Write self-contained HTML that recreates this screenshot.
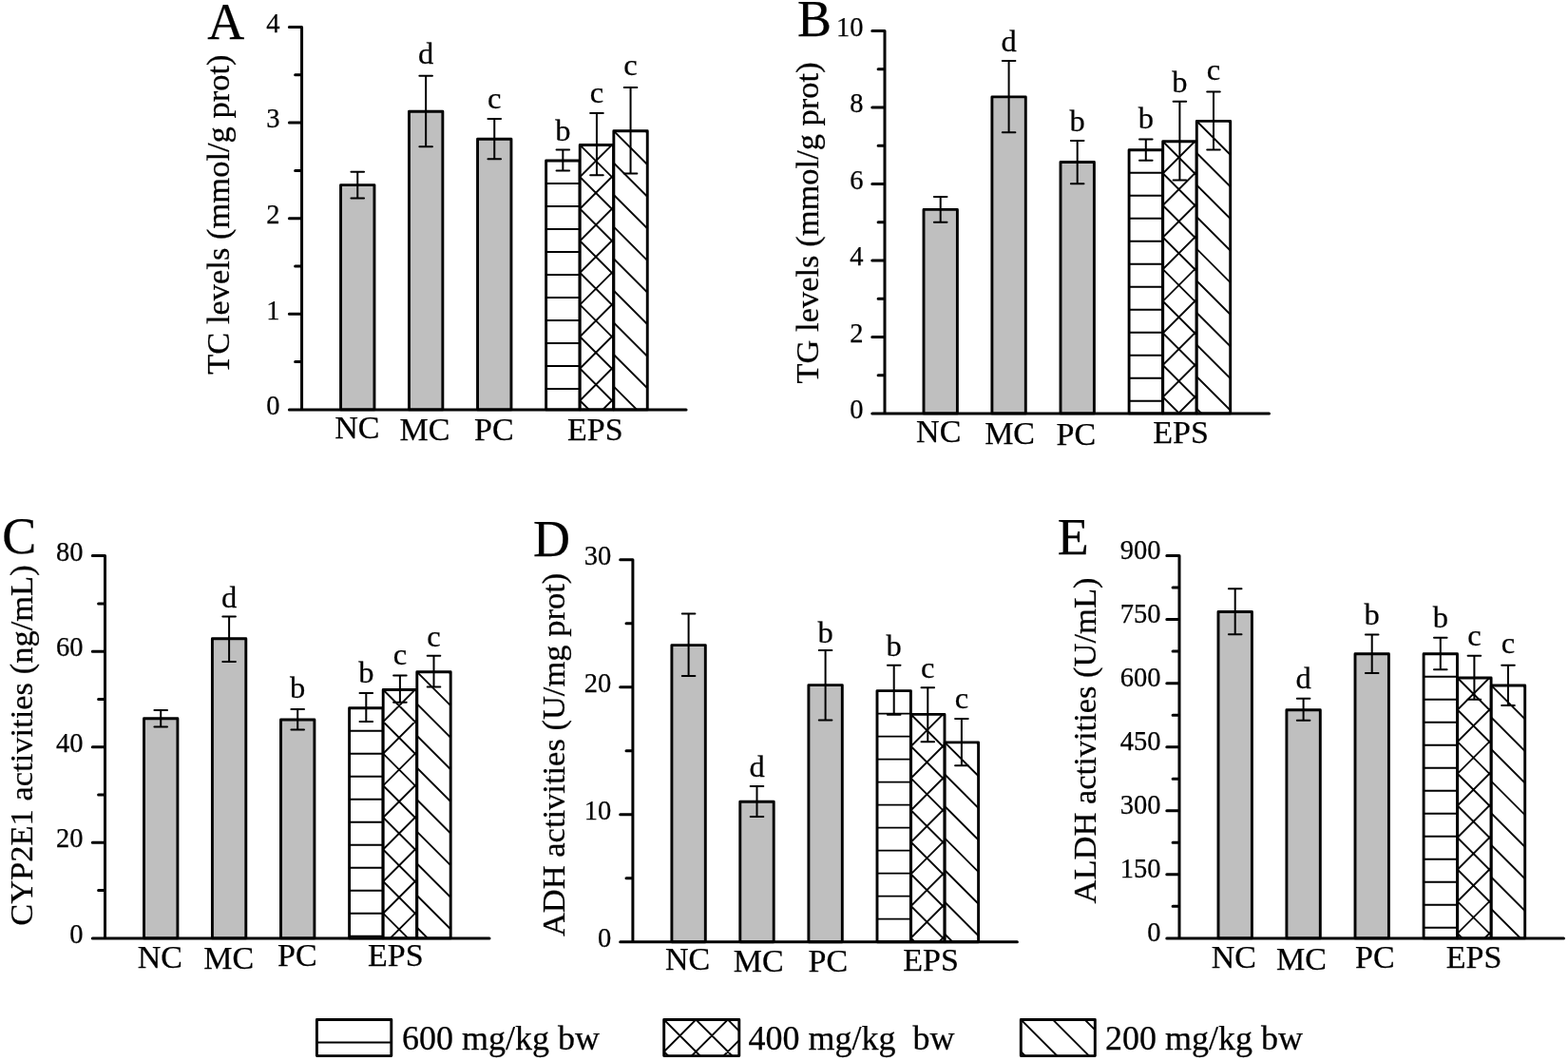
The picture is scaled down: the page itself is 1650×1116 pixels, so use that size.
<!DOCTYPE html>
<html><head><meta charset="utf-8"><title>Figure</title>
<style>html,body{margin:0;padding:0;background:#fff;width:1650px;height:1116px;overflow:hidden}svg{display:block}text{stroke:#000;stroke-width:0.25px}</style>
</head><body>
<svg width="1650" height="1116" viewBox="0 0 1650 1116" font-family="'Liberation Serif','Times New Roman',serif" fill="#000">
<defs><clipPath id="c1"><rect x="574.65" y="169.00" width="35.40" height="261.90"/></clipPath><clipPath id="c2"><rect x="610.25" y="152.50" width="35.40" height="278.40"/></clipPath><clipPath id="c3"><rect x="645.85" y="137.80" width="35.40" height="293.10"/></clipPath><clipPath id="c4"><rect x="1188.10" y="157.80" width="35.40" height="277.10"/></clipPath><clipPath id="c5"><rect x="1223.70" y="148.80" width="35.40" height="286.10"/></clipPath><clipPath id="c6"><rect x="1259.30" y="127.40" width="35.40" height="307.50"/></clipPath><clipPath id="c7"><rect x="367.60" y="744.70" width="35.40" height="242.20"/></clipPath><clipPath id="c8"><rect x="403.20" y="725.50" width="35.40" height="261.40"/></clipPath><clipPath id="c9"><rect x="438.80" y="706.80" width="35.40" height="280.10"/></clipPath><clipPath id="c10"><rect x="923.00" y="726.60" width="35.40" height="264.10"/></clipPath><clipPath id="c11"><rect x="958.60" y="751.40" width="35.40" height="239.30"/></clipPath><clipPath id="c12"><rect x="994.20" y="780.90" width="35.40" height="209.80"/></clipPath><clipPath id="c13"><rect x="1498.10" y="687.80" width="35.40" height="299.10"/></clipPath><clipPath id="c14"><rect x="1533.70" y="713.00" width="35.40" height="273.90"/></clipPath><clipPath id="c15"><rect x="1569.30" y="721.00" width="35.40" height="265.90"/></clipPath><clipPath id="c16"><rect x="333.40" y="1072.50" width="78.40" height="38.10"/></clipPath><clipPath id="c17"><rect x="698.70" y="1072.50" width="79.10" height="38.10"/></clipPath><clipPath id="c18"><rect x="1074.30" y="1072.50" width="78.00" height="38.10"/></clipPath></defs>
<rect width="1650" height="1116" fill="#fff"/>
<rect x="358.55" y="194.60" width="35.40" height="236.30" fill="#bfbfbf" stroke="#000" stroke-width="2.9" stroke-linejoin="round"/>
<rect x="430.45" y="117.30" width="35.40" height="313.60" fill="#bfbfbf" stroke="#000" stroke-width="2.9" stroke-linejoin="round"/>
<rect x="502.55" y="146.30" width="35.40" height="284.60" fill="#bfbfbf" stroke="#000" stroke-width="2.9" stroke-linejoin="round"/>
<rect x="574.65" y="169.00" width="35.40" height="261.90" fill="#fff"/>
<path d="M574.65 193.00L610.05 193.00M574.65 217.00L610.05 217.00M574.65 241.00L610.05 241.00M574.65 265.00L610.05 265.00M574.65 289.00L610.05 289.00M574.65 313.00L610.05 313.00M574.65 337.00L610.05 337.00M574.65 361.00L610.05 361.00M574.65 385.00L610.05 385.00M574.65 409.00L610.05 409.00" stroke="#000" stroke-width="1.9" fill="none" clip-path="url(#c1)"/>
<rect x="574.65" y="169.00" width="35.40" height="261.90" fill="none" stroke="#000" stroke-width="2.9" stroke-linejoin="round"/>
<rect x="610.25" y="152.50" width="35.40" height="278.40" fill="#fff"/>
<path d="M605.25 46.70L650.65 92.10M605.25 80.30L650.65 125.70M605.25 113.90L650.65 159.30M605.25 147.50L650.65 192.90M605.25 181.10L650.65 226.50M605.25 214.70L650.65 260.10M605.25 248.30L650.65 293.70M605.25 281.90L650.65 327.30M605.25 315.50L650.65 360.90M605.25 349.10L650.65 394.50M605.25 382.70L650.65 428.10M605.25 416.30L650.65 461.70M605.25 449.90L650.65 495.30M605.25 56.70L650.65 11.30M605.25 90.30L650.65 44.90M605.25 123.90L650.65 78.50M605.25 157.50L650.65 112.10M605.25 191.10L650.65 145.70M605.25 224.70L650.65 179.30M605.25 258.30L650.65 212.90M605.25 291.90L650.65 246.50M605.25 325.50L650.65 280.10M605.25 359.10L650.65 313.70M605.25 392.70L650.65 347.30M605.25 426.30L650.65 380.90M605.25 459.90L650.65 414.50" stroke="#000" stroke-width="1.9" fill="none" clip-path="url(#c2)"/>
<rect x="610.25" y="152.50" width="35.40" height="278.40" fill="none" stroke="#000" stroke-width="2.9" stroke-linejoin="round"/>
<rect x="645.85" y="137.80" width="35.40" height="293.10" fill="#fff"/>
<path d="M640.85 32.00L686.25 77.40M640.85 65.60L686.25 111.00M640.85 99.20L686.25 144.60M640.85 132.80L686.25 178.20M640.85 166.40L686.25 211.80M640.85 200.00L686.25 245.40M640.85 233.60L686.25 279.00M640.85 267.20L686.25 312.60M640.85 300.80L686.25 346.20M640.85 334.40L686.25 379.80M640.85 368.00L686.25 413.40M640.85 401.60L686.25 447.00M640.85 435.20L686.25 480.60" stroke="#000" stroke-width="1.9" fill="none" clip-path="url(#c3)"/>
<rect x="645.85" y="137.80" width="35.40" height="293.10" fill="none" stroke="#000" stroke-width="2.9" stroke-linejoin="round"/>
<path d="M376.25 180.70V208.50M369.45 180.70H383.05M369.45 208.50H383.05" stroke="#000" stroke-width="2.0" stroke-linecap="round" fill="none"/>
<path d="M448.15 79.80V154.20M441.35 79.80H454.95M441.35 154.20H454.95" stroke="#000" stroke-width="2.0" stroke-linecap="round" fill="none"/>
<text x="448.15" y="66.90" font-size="32.5" text-anchor="middle">d</text>
<path d="M520.25 125.10V167.20M513.45 125.10H527.05M513.45 167.20H527.05" stroke="#000" stroke-width="2.0" stroke-linecap="round" fill="none"/>
<text x="520.25" y="113.50" font-size="32.5" text-anchor="middle">c</text>
<path d="M592.35 157.40V179.40M585.55 157.40H599.15M585.55 179.40H599.15" stroke="#000" stroke-width="2.0" stroke-linecap="round" fill="none"/>
<text x="592.35" y="147.50" font-size="32.5" text-anchor="middle">b</text>
<path d="M627.95 118.90V184.30M621.15 118.90H634.75M621.15 184.30H634.75" stroke="#000" stroke-width="2.0" stroke-linecap="round" fill="none"/>
<text x="627.95" y="108.10" font-size="32.5" text-anchor="middle">c</text>
<path d="M663.55 92.00V182.50M656.75 92.00H670.35M656.75 182.50H670.35" stroke="#000" stroke-width="2.0" stroke-linecap="round" fill="none"/>
<text x="663.55" y="78.50" font-size="32.5" text-anchor="middle">c</text>
<text x="294.45" y="436.10" font-size="28.5" text-anchor="end">0</text>
<text x="294.45" y="335.50" font-size="28.5" text-anchor="end">1</text>
<text x="294.45" y="234.90" font-size="28.5" text-anchor="end">2</text>
<text x="294.45" y="134.30" font-size="28.5" text-anchor="end">3</text>
<text x="294.45" y="33.70" font-size="28.5" text-anchor="end">4</text>
<path d="M304.35 28.50H317.55V430.90H722.05M304.35 430.90H317.55M310.65 380.60H317.55M304.35 330.30H317.55M310.65 280.00H317.55M304.35 229.70H317.55M310.65 179.40H317.55M304.35 129.10H317.55M310.65 78.80H317.55" stroke="#000" stroke-width="3.0" fill="none" stroke-linejoin="round" stroke-linecap="round"/>
<text x="375.90" y="460.80" font-size="34" text-anchor="middle">NC</text>
<text x="447.00" y="462.80" font-size="34" text-anchor="middle">MC</text>
<text x="519.90" y="462.80" font-size="34" text-anchor="middle">PC</text>
<text x="626.40" y="462.80" font-size="34" text-anchor="middle">EPS</text>
<text transform="translate(241.20 225.65) rotate(-90)" x="0" y="0" font-size="34.5" text-anchor="middle">TC levels (mmol/g prot)</text>
<text x="218.30" y="41.00" font-size="54">A</text>
<rect x="972.00" y="220.40" width="35.40" height="214.50" fill="#bfbfbf" stroke="#000" stroke-width="2.9" stroke-linejoin="round"/>
<rect x="1043.90" y="101.90" width="35.40" height="333.00" fill="#bfbfbf" stroke="#000" stroke-width="2.9" stroke-linejoin="round"/>
<rect x="1116.00" y="170.50" width="35.40" height="264.40" fill="#bfbfbf" stroke="#000" stroke-width="2.9" stroke-linejoin="round"/>
<rect x="1188.10" y="157.80" width="35.40" height="277.10" fill="#fff"/>
<path d="M1188.10 181.80L1223.50 181.80M1188.10 205.80L1223.50 205.80M1188.10 229.80L1223.50 229.80M1188.10 253.80L1223.50 253.80M1188.10 277.80L1223.50 277.80M1188.10 301.80L1223.50 301.80M1188.10 325.80L1223.50 325.80M1188.10 349.80L1223.50 349.80M1188.10 373.80L1223.50 373.80M1188.10 397.80L1223.50 397.80M1188.10 421.80L1223.50 421.80" stroke="#000" stroke-width="1.9" fill="none" clip-path="url(#c4)"/>
<rect x="1188.10" y="157.80" width="35.40" height="277.10" fill="none" stroke="#000" stroke-width="2.9" stroke-linejoin="round"/>
<rect x="1223.70" y="148.80" width="35.40" height="286.10" fill="#fff"/>
<path d="M1218.70 43.00L1264.10 88.40M1218.70 76.60L1264.10 122.00M1218.70 110.20L1264.10 155.60M1218.70 143.80L1264.10 189.20M1218.70 177.40L1264.10 222.80M1218.70 211.00L1264.10 256.40M1218.70 244.60L1264.10 290.00M1218.70 278.20L1264.10 323.60M1218.70 311.80L1264.10 357.20M1218.70 345.40L1264.10 390.80M1218.70 379.00L1264.10 424.40M1218.70 412.60L1264.10 458.00M1218.70 446.20L1264.10 491.60M1218.70 53.00L1264.10 7.60M1218.70 86.60L1264.10 41.20M1218.70 120.20L1264.10 74.80M1218.70 153.80L1264.10 108.40M1218.70 187.40L1264.10 142.00M1218.70 221.00L1264.10 175.60M1218.70 254.60L1264.10 209.20M1218.70 288.20L1264.10 242.80M1218.70 321.80L1264.10 276.40M1218.70 355.40L1264.10 310.00M1218.70 389.00L1264.10 343.60M1218.70 422.60L1264.10 377.20M1218.70 456.20L1264.10 410.80" stroke="#000" stroke-width="1.9" fill="none" clip-path="url(#c5)"/>
<rect x="1223.70" y="148.80" width="35.40" height="286.10" fill="none" stroke="#000" stroke-width="2.9" stroke-linejoin="round"/>
<rect x="1259.30" y="127.40" width="35.40" height="307.50" fill="#fff"/>
<path d="M1254.30 21.60L1299.70 67.00M1254.30 55.20L1299.70 100.60M1254.30 88.80L1299.70 134.20M1254.30 122.40L1299.70 167.80M1254.30 156.00L1299.70 201.40M1254.30 189.60L1299.70 235.00M1254.30 223.20L1299.70 268.60M1254.30 256.80L1299.70 302.20M1254.30 290.40L1299.70 335.80M1254.30 324.00L1299.70 369.40M1254.30 357.60L1299.70 403.00M1254.30 391.20L1299.70 436.60M1254.30 424.80L1299.70 470.20M1254.30 458.40L1299.70 503.80" stroke="#000" stroke-width="1.9" fill="none" clip-path="url(#c6)"/>
<rect x="1259.30" y="127.40" width="35.40" height="307.50" fill="none" stroke="#000" stroke-width="2.9" stroke-linejoin="round"/>
<path d="M989.70 207.10V233.80M982.90 207.10H996.50M982.90 233.80H996.50" stroke="#000" stroke-width="2.0" stroke-linecap="round" fill="none"/>
<path d="M1061.60 63.90V139.20M1054.80 63.90H1068.40M1054.80 139.20H1068.40" stroke="#000" stroke-width="2.0" stroke-linecap="round" fill="none"/>
<text x="1061.60" y="54.40" font-size="32.5" text-anchor="middle">d</text>
<path d="M1133.70 148.10V193.30M1126.90 148.10H1140.50M1126.90 193.30H1140.50" stroke="#000" stroke-width="2.0" stroke-linecap="round" fill="none"/>
<text x="1133.70" y="138.30" font-size="32.5" text-anchor="middle">b</text>
<path d="M1205.80 146.60V168.70M1199.00 146.60H1212.60M1199.00 168.70H1212.60" stroke="#000" stroke-width="2.0" stroke-linecap="round" fill="none"/>
<text x="1205.80" y="135.00" font-size="32.5" text-anchor="middle">b</text>
<path d="M1241.40 106.70V189.60M1234.60 106.70H1248.20M1234.60 189.60H1248.20" stroke="#000" stroke-width="2.0" stroke-linecap="round" fill="none"/>
<text x="1241.40" y="97.30" font-size="32.5" text-anchor="middle">b</text>
<path d="M1277.00 96.60V157.40M1270.20 96.60H1283.80M1270.20 157.40H1283.80" stroke="#000" stroke-width="2.0" stroke-linecap="round" fill="none"/>
<text x="1277.00" y="83.90" font-size="32.5" text-anchor="middle">c</text>
<text x="908.50" y="440.40" font-size="28.5" text-anchor="end">0</text>
<text x="908.50" y="359.92" font-size="28.5" text-anchor="end">2</text>
<text x="908.50" y="279.44" font-size="28.5" text-anchor="end">4</text>
<text x="908.50" y="198.96" font-size="28.5" text-anchor="end">6</text>
<text x="908.50" y="118.48" font-size="28.5" text-anchor="end">8</text>
<text x="908.50" y="38.00" font-size="28.5" text-anchor="end">10</text>
<path d="M917.80 32.50H931.00V434.90H1335.50M917.80 434.90H931.00M924.10 394.66H931.00M917.80 354.42H931.00M924.10 314.18H931.00M917.80 273.94H931.00M924.10 233.70H931.00M917.80 193.46H931.00M924.10 153.22H931.00M917.80 112.98H931.00M924.10 72.74H931.00" stroke="#000" stroke-width="3.0" fill="none" stroke-linejoin="round" stroke-linecap="round"/>
<text x="987.70" y="465.40" font-size="34" text-anchor="middle">NC</text>
<text x="1062.60" y="466.90" font-size="34" text-anchor="middle">MC</text>
<text x="1132.40" y="467.50" font-size="34" text-anchor="middle">PC</text>
<text x="1242.60" y="466.30" font-size="34" text-anchor="middle">EPS</text>
<text transform="translate(860.80 234.45) rotate(-90)" x="0" y="0" font-size="34.5" text-anchor="middle">TG levels (mmol/g prot)</text>
<text x="839.00" y="37.80" font-size="54">B</text>
<rect x="151.50" y="755.80" width="35.40" height="231.10" fill="#bfbfbf" stroke="#000" stroke-width="2.9" stroke-linejoin="round"/>
<rect x="223.40" y="671.70" width="35.40" height="315.20" fill="#bfbfbf" stroke="#000" stroke-width="2.9" stroke-linejoin="round"/>
<rect x="295.50" y="757.00" width="35.40" height="229.90" fill="#bfbfbf" stroke="#000" stroke-width="2.9" stroke-linejoin="round"/>
<rect x="367.60" y="744.70" width="35.40" height="242.20" fill="#fff"/>
<path d="M367.60 768.70L403.00 768.70M367.60 792.70L403.00 792.70M367.60 816.70L403.00 816.70M367.60 840.70L403.00 840.70M367.60 864.70L403.00 864.70M367.60 888.70L403.00 888.70M367.60 912.70L403.00 912.70M367.60 936.70L403.00 936.70M367.60 960.70L403.00 960.70M367.60 984.70L403.00 984.70" stroke="#000" stroke-width="1.9" fill="none" clip-path="url(#c7)"/>
<rect x="367.60" y="744.70" width="35.40" height="242.20" fill="none" stroke="#000" stroke-width="2.9" stroke-linejoin="round"/>
<rect x="403.20" y="725.50" width="35.40" height="261.40" fill="#fff"/>
<path d="M398.20 619.70L443.60 665.10M398.20 653.30L443.60 698.70M398.20 686.90L443.60 732.30M398.20 720.50L443.60 765.90M398.20 754.10L443.60 799.50M398.20 787.70L443.60 833.10M398.20 821.30L443.60 866.70M398.20 854.90L443.60 900.30M398.20 888.50L443.60 933.90M398.20 922.10L443.60 967.50M398.20 955.70L443.60 1001.10M398.20 989.30L443.60 1034.70M398.20 629.70L443.60 584.30M398.20 663.30L443.60 617.90M398.20 696.90L443.60 651.50M398.20 730.50L443.60 685.10M398.20 764.10L443.60 718.70M398.20 797.70L443.60 752.30M398.20 831.30L443.60 785.90M398.20 864.90L443.60 819.50M398.20 898.50L443.60 853.10M398.20 932.10L443.60 886.70M398.20 965.70L443.60 920.30M398.20 999.30L443.60 953.90" stroke="#000" stroke-width="1.9" fill="none" clip-path="url(#c8)"/>
<rect x="403.20" y="725.50" width="35.40" height="261.40" fill="none" stroke="#000" stroke-width="2.9" stroke-linejoin="round"/>
<rect x="438.80" y="706.80" width="35.40" height="280.10" fill="#fff"/>
<path d="M433.80 601.00L479.20 646.40M433.80 634.60L479.20 680.00M433.80 668.20L479.20 713.60M433.80 701.80L479.20 747.20M433.80 735.40L479.20 780.80M433.80 769.00L479.20 814.40M433.80 802.60L479.20 848.00M433.80 836.20L479.20 881.60M433.80 869.80L479.20 915.20M433.80 903.40L479.20 948.80M433.80 937.00L479.20 982.40M433.80 970.60L479.20 1016.00M433.80 1004.20L479.20 1049.60" stroke="#000" stroke-width="1.9" fill="none" clip-path="url(#c9)"/>
<rect x="438.80" y="706.80" width="35.40" height="280.10" fill="none" stroke="#000" stroke-width="2.9" stroke-linejoin="round"/>
<path d="M169.20 747.00V764.50M162.40 747.00H176.00M162.40 764.50H176.00" stroke="#000" stroke-width="2.0" stroke-linecap="round" fill="none"/>
<path d="M241.10 648.40V695.90M234.30 648.40H247.90M234.30 695.90H247.90" stroke="#000" stroke-width="2.0" stroke-linecap="round" fill="none"/>
<text x="241.10" y="638.50" font-size="32.5" text-anchor="middle">d</text>
<path d="M313.20 746.00V767.60M306.40 746.00H320.00M306.40 767.60H320.00" stroke="#000" stroke-width="2.0" stroke-linecap="round" fill="none"/>
<text x="313.20" y="734.40" font-size="32.5" text-anchor="middle">b</text>
<path d="M385.30 729.00V759.00M378.50 729.00H392.10M378.50 759.00H392.10" stroke="#000" stroke-width="2.0" stroke-linecap="round" fill="none"/>
<text x="385.30" y="717.50" font-size="32.5" text-anchor="middle">b</text>
<path d="M420.90 710.60V738.70M414.10 710.60H427.70M414.10 738.70H427.70" stroke="#000" stroke-width="2.0" stroke-linecap="round" fill="none"/>
<text x="420.90" y="698.90" font-size="32.5" text-anchor="middle">c</text>
<path d="M456.50 689.80V722.50M449.70 689.80H463.30M449.70 722.50H463.30" stroke="#000" stroke-width="2.0" stroke-linecap="round" fill="none"/>
<text x="456.50" y="679.50" font-size="32.5" text-anchor="middle">c</text>
<text x="87.60" y="991.90" font-size="28.5" text-anchor="end">0</text>
<text x="87.60" y="891.32" font-size="28.5" text-anchor="end">20</text>
<text x="87.60" y="790.75" font-size="28.5" text-anchor="end">40</text>
<text x="87.60" y="690.17" font-size="28.5" text-anchor="end">60</text>
<text x="87.60" y="589.60" font-size="28.5" text-anchor="end">80</text>
<path d="M97.30 584.60H110.50V986.90H515.00M97.30 986.90H110.50M103.60 936.61H110.50M97.30 886.32H110.50M103.60 836.04H110.50M97.30 785.75H110.50M103.60 735.46H110.50M97.30 685.17H110.50M103.60 634.89H110.50" stroke="#000" stroke-width="3.0" fill="none" stroke-linejoin="round" stroke-linecap="round"/>
<text x="168.40" y="1018.10" font-size="34" text-anchor="middle">NC</text>
<text x="240.80" y="1018.50" font-size="34" text-anchor="middle">MC</text>
<text x="312.90" y="1016.00" font-size="34" text-anchor="middle">PC</text>
<text x="416.40" y="1015.90" font-size="34" text-anchor="middle">EPS</text>
<text transform="translate(34.30 784.10) rotate(-90)" x="0" y="0" font-size="34.5" text-anchor="middle">CYP2E1 activities (ng/mL)</text>
<text x="2.20" y="581.80" font-size="54">C</text>
<rect x="706.90" y="678.60" width="35.40" height="312.10" fill="#bfbfbf" stroke="#000" stroke-width="2.9" stroke-linejoin="round"/>
<rect x="778.80" y="843.30" width="35.40" height="147.40" fill="#bfbfbf" stroke="#000" stroke-width="2.9" stroke-linejoin="round"/>
<rect x="850.90" y="720.60" width="35.40" height="270.10" fill="#bfbfbf" stroke="#000" stroke-width="2.9" stroke-linejoin="round"/>
<rect x="923.00" y="726.60" width="35.40" height="264.10" fill="#fff"/>
<path d="M923.00 750.60L958.40 750.60M923.00 774.60L958.40 774.60M923.00 798.60L958.40 798.60M923.00 822.60L958.40 822.60M923.00 846.60L958.40 846.60M923.00 870.60L958.40 870.60M923.00 894.60L958.40 894.60M923.00 918.60L958.40 918.60M923.00 942.60L958.40 942.60M923.00 966.60L958.40 966.60M923.00 990.60L958.40 990.60" stroke="#000" stroke-width="1.9" fill="none" clip-path="url(#c10)"/>
<rect x="923.00" y="726.60" width="35.40" height="264.10" fill="none" stroke="#000" stroke-width="2.9" stroke-linejoin="round"/>
<rect x="958.60" y="751.40" width="35.40" height="239.30" fill="#fff"/>
<path d="M953.60 645.60L999.00 691.00M953.60 679.20L999.00 724.60M953.60 712.80L999.00 758.20M953.60 746.40L999.00 791.80M953.60 780.00L999.00 825.40M953.60 813.60L999.00 859.00M953.60 847.20L999.00 892.60M953.60 880.80L999.00 926.20M953.60 914.40L999.00 959.80M953.60 948.00L999.00 993.40M953.60 981.60L999.00 1027.00M953.60 1015.20L999.00 1060.60M953.60 655.60L999.00 610.20M953.60 689.20L999.00 643.80M953.60 722.80L999.00 677.40M953.60 756.40L999.00 711.00M953.60 790.00L999.00 744.60M953.60 823.60L999.00 778.20M953.60 857.20L999.00 811.80M953.60 890.80L999.00 845.40M953.60 924.40L999.00 879.00M953.60 958.00L999.00 912.60M953.60 991.60L999.00 946.20M953.60 1025.20L999.00 979.80" stroke="#000" stroke-width="1.9" fill="none" clip-path="url(#c11)"/>
<rect x="958.60" y="751.40" width="35.40" height="239.30" fill="none" stroke="#000" stroke-width="2.9" stroke-linejoin="round"/>
<rect x="994.20" y="780.90" width="35.40" height="209.80" fill="#fff"/>
<path d="M989.20 675.10L1034.60 720.50M989.20 708.70L1034.60 754.10M989.20 742.30L1034.60 787.70M989.20 775.90L1034.60 821.30M989.20 809.50L1034.60 854.90M989.20 843.10L1034.60 888.50M989.20 876.70L1034.60 922.10M989.20 910.30L1034.60 955.70M989.20 943.90L1034.60 989.30M989.20 977.50L1034.60 1022.90M989.20 1011.10L1034.60 1056.50" stroke="#000" stroke-width="1.9" fill="none" clip-path="url(#c12)"/>
<rect x="994.20" y="780.90" width="35.40" height="209.80" fill="none" stroke="#000" stroke-width="2.9" stroke-linejoin="round"/>
<path d="M724.60 645.60V710.90M717.80 645.60H731.40M717.80 710.90H731.40" stroke="#000" stroke-width="2.0" stroke-linecap="round" fill="none"/>
<path d="M796.50 827.00V858.90M789.70 827.00H803.30M789.70 858.90H803.30" stroke="#000" stroke-width="2.0" stroke-linecap="round" fill="none"/>
<text x="796.50" y="817.00" font-size="32.5" text-anchor="middle">d</text>
<path d="M868.60 684.10V757.50M861.80 684.10H875.40M861.80 757.50H875.40" stroke="#000" stroke-width="2.0" stroke-linecap="round" fill="none"/>
<text x="868.60" y="675.90" font-size="32.5" text-anchor="middle">b</text>
<path d="M940.70 699.80V751.80M933.90 699.80H947.50M933.90 751.80H947.50" stroke="#000" stroke-width="2.0" stroke-linecap="round" fill="none"/>
<text x="940.70" y="689.50" font-size="32.5" text-anchor="middle">b</text>
<path d="M976.30 723.20V780.20M969.50 723.20H983.10M969.50 780.20H983.10" stroke="#000" stroke-width="2.0" stroke-linecap="round" fill="none"/>
<text x="976.30" y="713.10" font-size="32.5" text-anchor="middle">c</text>
<path d="M1011.90 756.10V805.20M1005.10 756.10H1018.70M1005.10 805.20H1018.70" stroke="#000" stroke-width="2.0" stroke-linecap="round" fill="none"/>
<text x="1011.90" y="745.40" font-size="32.5" text-anchor="middle">c</text>
<text x="643.30" y="996.20" font-size="28.5" text-anchor="end">0</text>
<text x="643.30" y="862.20" font-size="28.5" text-anchor="end">10</text>
<text x="643.30" y="728.20" font-size="28.5" text-anchor="end">20</text>
<text x="643.30" y="594.20" font-size="28.5" text-anchor="end">30</text>
<path d="M652.70 588.70H665.90V990.70H1070.40M652.70 990.70H665.90M659.00 923.70H665.90M652.70 856.70H665.90M659.00 789.70H665.90M652.70 722.70H665.90M659.00 655.70H665.90" stroke="#000" stroke-width="3.0" fill="none" stroke-linejoin="round" stroke-linecap="round"/>
<text x="723.50" y="1020.00" font-size="34" text-anchor="middle">NC</text>
<text x="798.20" y="1021.50" font-size="34" text-anchor="middle">MC</text>
<text x="871.40" y="1021.50" font-size="34" text-anchor="middle">PC</text>
<text x="979.50" y="1020.90" font-size="34" text-anchor="middle">EPS</text>
<text transform="translate(593.60 793.95) rotate(-90)" x="0" y="0" font-size="34.5" text-anchor="middle">ADH activities (U/mg prot)</text>
<text x="561.00" y="585.00" font-size="54">D</text>
<rect x="1282.00" y="643.50" width="35.40" height="343.40" fill="#bfbfbf" stroke="#000" stroke-width="2.9" stroke-linejoin="round"/>
<rect x="1353.90" y="746.70" width="35.40" height="240.20" fill="#bfbfbf" stroke="#000" stroke-width="2.9" stroke-linejoin="round"/>
<rect x="1426.00" y="687.80" width="35.40" height="299.10" fill="#bfbfbf" stroke="#000" stroke-width="2.9" stroke-linejoin="round"/>
<rect x="1498.10" y="687.80" width="35.40" height="299.10" fill="#fff"/>
<path d="M1498.10 711.80L1533.50 711.80M1498.10 735.80L1533.50 735.80M1498.10 759.80L1533.50 759.80M1498.10 783.80L1533.50 783.80M1498.10 807.80L1533.50 807.80M1498.10 831.80L1533.50 831.80M1498.10 855.80L1533.50 855.80M1498.10 879.80L1533.50 879.80M1498.10 903.80L1533.50 903.80M1498.10 927.80L1533.50 927.80M1498.10 951.80L1533.50 951.80M1498.10 975.80L1533.50 975.80" stroke="#000" stroke-width="1.9" fill="none" clip-path="url(#c13)"/>
<rect x="1498.10" y="687.80" width="35.40" height="299.10" fill="none" stroke="#000" stroke-width="2.9" stroke-linejoin="round"/>
<rect x="1533.70" y="713.00" width="35.40" height="273.90" fill="#fff"/>
<path d="M1528.70 607.20L1574.10 652.60M1528.70 640.80L1574.10 686.20M1528.70 674.40L1574.10 719.80M1528.70 708.00L1574.10 753.40M1528.70 741.60L1574.10 787.00M1528.70 775.20L1574.10 820.60M1528.70 808.80L1574.10 854.20M1528.70 842.40L1574.10 887.80M1528.70 876.00L1574.10 921.40M1528.70 909.60L1574.10 955.00M1528.70 943.20L1574.10 988.60M1528.70 976.80L1574.10 1022.20M1528.70 1010.40L1574.10 1055.80M1528.70 617.20L1574.10 571.80M1528.70 650.80L1574.10 605.40M1528.70 684.40L1574.10 639.00M1528.70 718.00L1574.10 672.60M1528.70 751.60L1574.10 706.20M1528.70 785.20L1574.10 739.80M1528.70 818.80L1574.10 773.40M1528.70 852.40L1574.10 807.00M1528.70 886.00L1574.10 840.60M1528.70 919.60L1574.10 874.20M1528.70 953.20L1574.10 907.80M1528.70 986.80L1574.10 941.40M1528.70 1020.40L1574.10 975.00" stroke="#000" stroke-width="1.9" fill="none" clip-path="url(#c14)"/>
<rect x="1533.70" y="713.00" width="35.40" height="273.90" fill="none" stroke="#000" stroke-width="2.9" stroke-linejoin="round"/>
<rect x="1569.30" y="721.00" width="35.40" height="265.90" fill="#fff"/>
<path d="M1564.30 615.20L1609.70 660.60M1564.30 648.80L1609.70 694.20M1564.30 682.40L1609.70 727.80M1564.30 716.00L1609.70 761.40M1564.30 749.60L1609.70 795.00M1564.30 783.20L1609.70 828.60M1564.30 816.80L1609.70 862.20M1564.30 850.40L1609.70 895.80M1564.30 884.00L1609.70 929.40M1564.30 917.60L1609.70 963.00M1564.30 951.20L1609.70 996.60M1564.30 984.80L1609.70 1030.20M1564.30 1018.40L1609.70 1063.80" stroke="#000" stroke-width="1.9" fill="none" clip-path="url(#c15)"/>
<rect x="1569.30" y="721.00" width="35.40" height="265.90" fill="none" stroke="#000" stroke-width="2.9" stroke-linejoin="round"/>
<path d="M1299.70 619.20V667.20M1292.90 619.20H1306.50M1292.90 667.20H1306.50" stroke="#000" stroke-width="2.0" stroke-linecap="round" fill="none"/>
<path d="M1371.60 734.80V757.70M1364.80 734.80H1378.40M1364.80 757.70H1378.40" stroke="#000" stroke-width="2.0" stroke-linecap="round" fill="none"/>
<text x="1371.60" y="724.00" font-size="32.5" text-anchor="middle">d</text>
<path d="M1443.70 667.60V707.90M1436.90 667.60H1450.50M1436.90 707.90H1450.50" stroke="#000" stroke-width="2.0" stroke-linecap="round" fill="none"/>
<text x="1443.70" y="656.50" font-size="32.5" text-anchor="middle">b</text>
<path d="M1515.80 670.80V704.20M1509.00 670.80H1522.60M1509.00 704.20H1522.60" stroke="#000" stroke-width="2.0" stroke-linecap="round" fill="none"/>
<text x="1515.80" y="659.50" font-size="32.5" text-anchor="middle">b</text>
<path d="M1551.40 689.70V735.80M1544.60 689.70H1558.20M1544.60 735.80H1558.20" stroke="#000" stroke-width="2.0" stroke-linecap="round" fill="none"/>
<text x="1551.40" y="678.90" font-size="32.5" text-anchor="middle">c</text>
<path d="M1587.00 699.80V742.10M1580.20 699.80H1593.80M1580.20 742.10H1593.80" stroke="#000" stroke-width="2.0" stroke-linecap="round" fill="none"/>
<text x="1587.00" y="686.90" font-size="32.5" text-anchor="middle">c</text>
<text x="1221.40" y="990.30" font-size="28.5" text-anchor="end">0</text>
<text x="1221.40" y="923.23" font-size="28.5" text-anchor="end">150</text>
<text x="1221.40" y="856.17" font-size="28.5" text-anchor="end">300</text>
<text x="1221.40" y="789.10" font-size="28.5" text-anchor="end">450</text>
<text x="1221.40" y="722.03" font-size="28.5" text-anchor="end">600</text>
<text x="1221.40" y="654.97" font-size="28.5" text-anchor="end">750</text>
<text x="1221.40" y="587.90" font-size="28.5" text-anchor="end">900</text>
<path d="M1227.80 584.50H1241.00V986.90H1645.50M1227.80 986.90H1241.00M1234.10 953.37H1241.00M1227.80 919.83H1241.00M1234.10 886.30H1241.00M1227.80 852.77H1241.00M1234.10 819.23H1241.00M1227.80 785.70H1241.00M1234.10 752.17H1241.00M1227.80 718.63H1241.00M1234.10 685.10H1241.00M1227.80 651.57H1241.00M1234.10 618.03H1241.00" stroke="#000" stroke-width="3.0" fill="none" stroke-linejoin="round" stroke-linecap="round"/>
<text x="1298.40" y="1018.10" font-size="34" text-anchor="middle">NC</text>
<text x="1369.40" y="1019.50" font-size="34" text-anchor="middle">MC</text>
<text x="1446.90" y="1017.50" font-size="34" text-anchor="middle">PC</text>
<text x="1551.10" y="1018.30" font-size="34" text-anchor="middle">EPS</text>
<text transform="translate(1152.60 779.00) rotate(-90)" x="0" y="0" font-size="34.5" text-anchor="middle">ALDH activities (U/mL)</text>
<text x="1112.80" y="582.50" font-size="54">E</text>
<path d="M333.40 1096.50L411.80 1096.50" stroke="#000" stroke-width="1.9" fill="none" clip-path="url(#c16)"/>
<rect x="333.40" y="1072.50" width="78.40" height="38.10" fill="none" stroke="#000" stroke-width="2.9" stroke-linejoin="round"/>
<text x="423.00" y="1103.6" font-size="36">600 mg/kg bw</text>
<path d="M693.70 933.10L782.80 1022.20M693.70 966.70L782.80 1055.80M693.70 1000.30L782.80 1089.40M693.70 1033.90L782.80 1123.00M693.70 1067.50L782.80 1156.60M693.70 1101.10L782.80 1190.20M693.70 1134.70L782.80 1223.80M693.70 1168.30L782.80 1257.40M693.70 943.10L782.80 854.00M693.70 976.70L782.80 887.60M693.70 1010.30L782.80 921.20M693.70 1043.90L782.80 954.80M693.70 1077.50L782.80 988.40M693.70 1111.10L782.80 1022.00M693.70 1144.70L782.80 1055.60M693.70 1178.30L782.80 1089.20" stroke="#000" stroke-width="1.9" fill="none" clip-path="url(#c17)"/>
<rect x="698.70" y="1072.50" width="79.10" height="38.10" fill="none" stroke="#000" stroke-width="2.9" stroke-linejoin="round"/>
<text x="787.50" y="1103.6" font-size="36">400 mg/kg&#160; bw</text>
<path d="M1069.30 933.10L1157.30 1021.10M1069.30 966.70L1157.30 1054.70M1069.30 1000.30L1157.30 1088.30M1069.30 1033.90L1157.30 1121.90M1069.30 1067.50L1157.30 1155.50M1069.30 1101.10L1157.30 1189.10M1069.30 1134.70L1157.30 1222.70M1069.30 1168.30L1157.30 1256.30" stroke="#000" stroke-width="1.9" fill="none" clip-path="url(#c18)"/>
<rect x="1074.30" y="1072.50" width="78.00" height="38.10" fill="none" stroke="#000" stroke-width="2.9" stroke-linejoin="round"/>
<text x="1163.00" y="1103.6" font-size="36">200 mg/kg bw</text>
</svg>
</body></html>
